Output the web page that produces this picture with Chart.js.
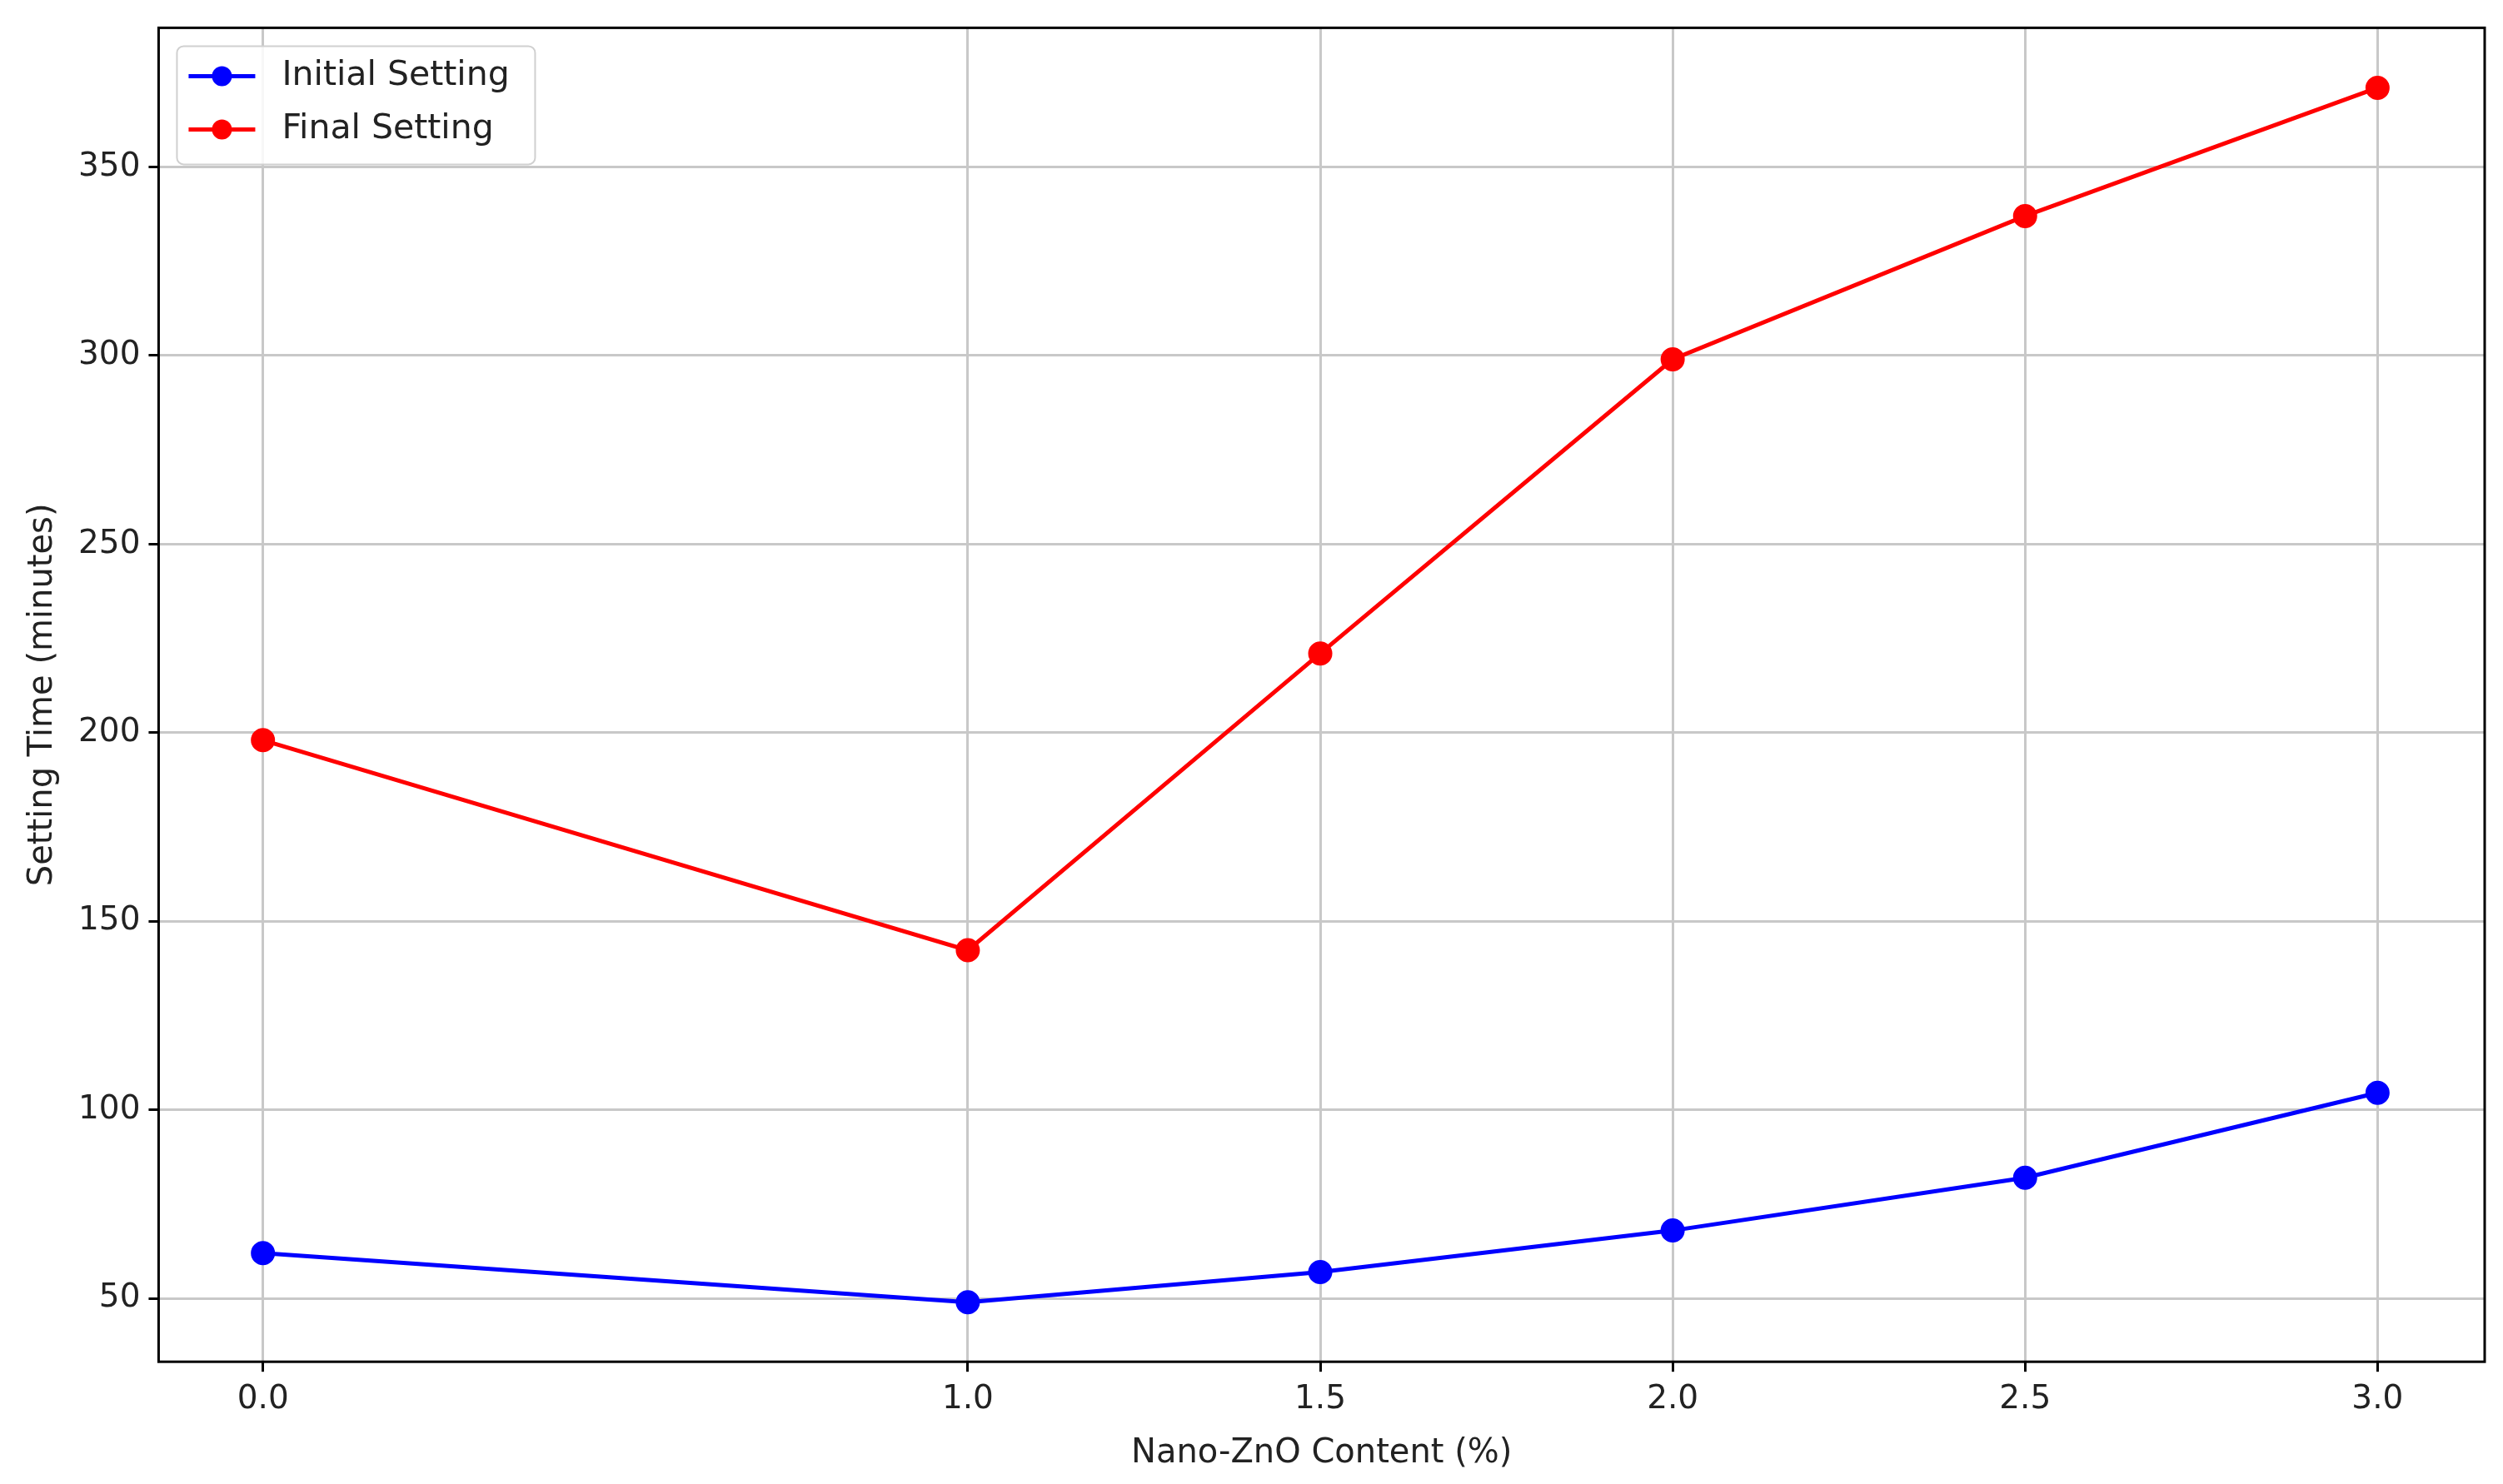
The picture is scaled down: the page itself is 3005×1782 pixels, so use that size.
<!DOCTYPE html>
<html>
<head>
<meta charset="utf-8">
<script src="https://cdn.jsdelivr.net/npm/chart.js@4"></script>
<style>
  html, body { margin: 0; padding: 0; background: #fff; }
  #wrap { width: 3005px; height: 1782px; }
</style>
</head>
<body>
<div id="wrap"><canvas id="chart"></canvas></div>
<script>
// data
var contents = [0.0, 1.0, 1.5, 2.0, 2.5, 3.0];
var initialSetting = [62, 49, 57, 68, 82, 104.5];
var finalSetting = [198, 142.3, 221, 299, 337, 371];
var yTicks = [50, 100, 150, 200, 250, 300, 350];

function toPoints(vals) {
  return contents.map(function (c, i) { return { x: c, y: vals[i] }; });
}

// legend drawn inside the plot, top-left, like the original
var innerLegend = {
  id: 'innerLegend',
  afterDraw: function (chart) {
    var ctx = chart.ctx, a = chart.chartArea;
    var x = a.left + 22, y = a.top + 22, w = 430, h = 142;
    ctx.save();
    ctx.fillStyle = 'rgba(255,255,255,0.85)';
    ctx.strokeStyle = '#d0d0d0';
    ctx.lineWidth = 2;
    ctx.beginPath();
    ctx.roundRect(x, y, w, h, 8);
    ctx.fill(); ctx.stroke();
    ctx.font = '41px "DejaVu Sans"';
    ctx.textBaseline = 'middle';
    chart.data.datasets.forEach(function (ds, i) {
      var cy = y + 36 + i * 64;
      ctx.strokeStyle = ds.borderColor;
      ctx.lineWidth = 5;
      ctx.beginPath(); ctx.moveTo(x + 14, cy); ctx.lineTo(x + 94, cy); ctx.stroke();
      ctx.fillStyle = ds.borderColor;
      ctx.beginPath(); ctx.arc(x + 54, cy, 12, 0, Math.PI * 2); ctx.fill();
      ctx.fillStyle = '#222';
      ctx.fillText(ds.label, x + 126, cy);
    });
    // frame around the plot
    ctx.strokeStyle = '#000';
    ctx.lineWidth = 3;
    ctx.strokeRect(a.left, a.top, a.right - a.left, a.bottom - a.top);
    ctx.restore();
  }
};

var ctx = document.getElementById('chart').getContext('2d');
new Chart(ctx, {
  type: 'line',
  data: {
    datasets: [
      {
        label: 'Initial Setting',
        data: toPoints(initialSetting),
        borderColor: '#0000ff',
        backgroundColor: '#0000ff',
        borderWidth: 5,
        pointRadius: 12,
        pointHoverRadius: 12,
        tension: 0
      },
      {
        label: 'Final Setting',
        data: toPoints(finalSetting),
        borderColor: '#ff0000',
        backgroundColor: '#ff0000',
        borderWidth: 5,
        pointRadius: 12,
        pointHoverRadius: 12,
        tension: 0
      }
    ]
  },
  options: {
    responsive: true,
    maintainAspectRatio: false,
    animation: false,
    layout: { padding: { top: 14, right: 22, bottom: 8, left: 24 } },
    plugins: { legend: { display: false }, tooltip: { enabled: false } },
    scales: {
      x: {
        type: 'linear',
        min: -0.148,
        max: 3.152,
        afterBuildTicks: function (axis) {
          axis.ticks = contents.map(function (v) { return { value: v }; });
        },
        ticks: {
          color: '#222',
          font: { size: 39, family: 'DejaVu Sans' },
          callback: function (v) { return v.toFixed(1); },
          padding: 10
        },
        grid: { color: '#c8c8c8', lineWidth: 3, tickLength: 12, tickColor: '#000' },
        border: { display: false },
        title: { display: true, text: 'Nano-ZnO Content (%)', color: '#222', font: { size: 40, family: 'DejaVu Sans' }, padding: { top: 8 } }
      },
      y: {
        min: 33.2,
        max: 386.9,
        afterBuildTicks: function (axis) {
          axis.ticks = yTicks.map(function (v) { return { value: v }; });
        },
        ticks: {
          color: '#222',
          font: { size: 39, family: 'DejaVu Sans' },
          padding: 10
        },
        grid: { color: '#c8c8c8', lineWidth: 3, tickLength: 12, tickColor: '#000' },
        border: { display: false },
        title: { display: true, text: 'Setting Time (minutes)', color: '#222', font: { size: 40, family: 'DejaVu Sans' }, padding: { bottom: 8 } }
      }
    }
  },
  plugins: [innerLegend]
});
</script>
</body>
</html>
